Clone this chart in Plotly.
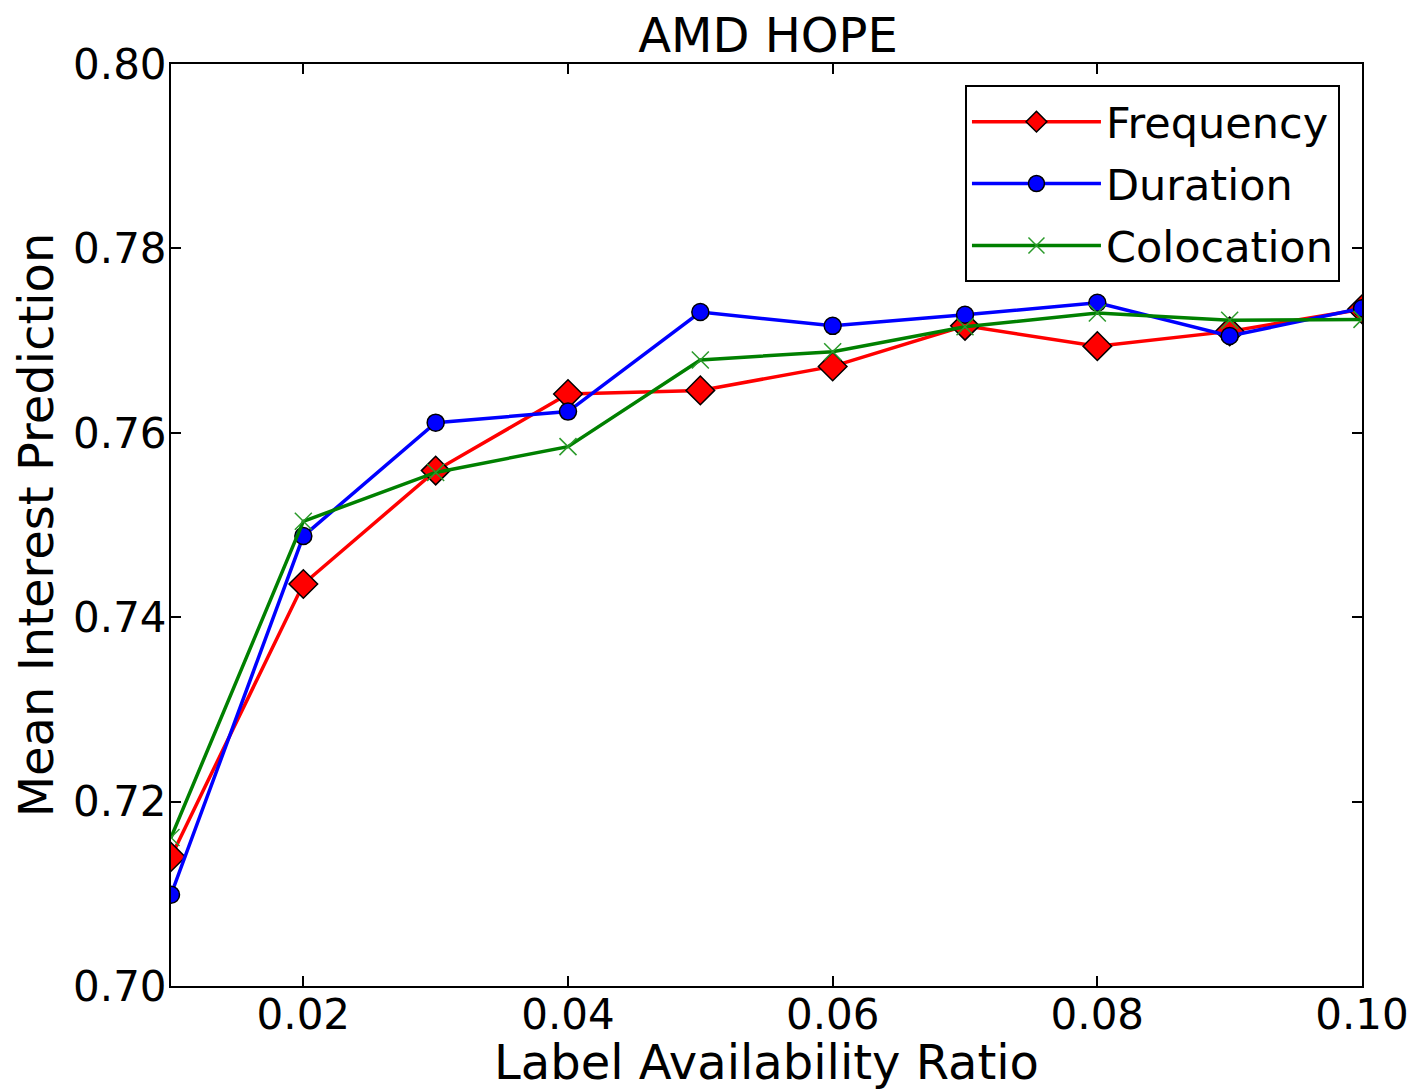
import plotly.graph_objects as go

ratios = [0.01, 0.02, 0.03, 0.04, 0.05, 0.06, 0.07, 0.08, 0.09, 0.10]
frequency = [0.7140, 0.7436, 0.7559, 0.7642, 0.7646, 0.7672, 0.7716, 0.7694, 0.7710, 0.7734]
duration = [0.7099, 0.7488, 0.7611, 0.7623, 0.7731, 0.7716, 0.7728, 0.7741, 0.7705, 0.7735]
colocation = [0.7161, 0.7504, 0.7557, 0.7585, 0.7679, 0.7688, 0.7715, 0.7730, 0.7722, 0.7723]

x_ticks = [0.02, 0.04, 0.06, 0.08, 0.10]
x_ticktext = ["0.02", "0.04", "0.06", "0.08", "0.10"]
y_ticks = [0.70, 0.72, 0.74, 0.76, 0.78, 0.80]
y_ticktext = ["0.70", "0.72", "0.74", "0.76", "0.78", "0.80"]

FONT = "DejaVu Sans"

fig = go.Figure()
fig.add_trace(go.Scatter(
    x=ratios, y=frequency, name="Frequency", mode="lines+markers", legendgroup="f",
    line=dict(color="#ff0000", width=3.5),
    marker=dict(symbol="diamond", size=22, color="#ff0000", line=dict(color="black", width=1.5)),
))
fig.add_trace(go.Scatter(
    x=ratios, y=duration, name="Duration", mode="lines+markers", legendgroup="d",
    line=dict(color="#0000ff", width=3.5),
    marker=dict(symbol="circle", size=17, color="#0000ff", line=dict(color="black", width=1.5)),
))
fig.add_trace(go.Scatter(
    x=ratios, y=colocation, name="Colocation", mode="lines+markers", legendgroup="c",
    line=dict(color="#008000", width=3.5),
    marker=dict(symbol="x-thin", size=17, color="#008000", line=dict(color="#2a9a2a", width=1.5)),
))

axis_common = dict(
    showline=True, linecolor="black", linewidth=2, mirror="ticks",
    ticks="inside", ticklen=10, tickwidth=1.5, tickcolor="black",
    showgrid=False, zeroline=False, automargin=False,
    tickfont=dict(family=FONT, size=42, color="black"),
)

fig.update_layout(
    width=1412, height=1082,
    margin=dict(l=163, r=58, t=56, b=104),
    paper_bgcolor="white", plot_bgcolor="white",
    font=dict(family=FONT, color="black"),
    title=dict(text="AMD HOPE", x=(768 - 8) / 1412, xanchor="center", y=1 - 27 / 1082, yanchor="middle",
               font=dict(family=FONT, size=48, color="black")),
    xaxis=dict(range=[0.01, 0.10], tickvals=x_ticks, ticktext=x_ticktext, ticklabelstandoff=-9,
               title=dict(text="Label Availability Ratio", font=dict(family=FONT, size=48, color="black"), standoff=3),
               **axis_common),
    yaxis=dict(range=[0.70, 0.80], tickvals=y_ticks, ticktext=y_ticktext, ticklabelstandoff=-6,
               title=dict(text="Mean Interest Prediction", font=dict(family=FONT, size=48, color="black"), standoff=6),
               **axis_common),
    legend=dict(x=0.9815, y=0.977, xanchor="right", yanchor="top",
                bgcolor="white", bordercolor="black", borderwidth=2,
                font=dict(family=FONT, size=43, color="black"),
                itemwidth=129, tracegroupgap=3),
    showlegend=True,
)

fig.write_html("out.html")
